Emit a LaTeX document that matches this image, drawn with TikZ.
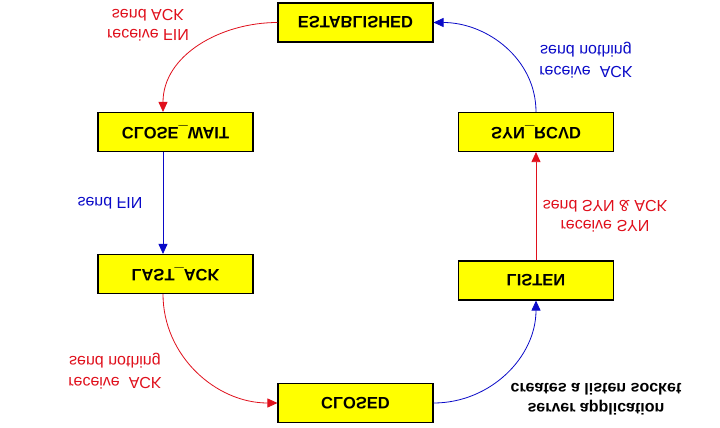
\documentclass[tikz,border=0pt]{standalone}
\usepackage{fontspec}
\setmainfont{Liberation Sans}
\usetikzlibrary{arrows.meta}
\definecolor{cState}{HTML}{FFFF00}
\definecolor{cSend}{HTML}{E0101C}
\definecolor{cRecv}{HTML}{0A0AC8}
\newcommand{\flipv}[1]{\scalebox{1}[-1]{#1}}

\begin{document}
\begin{tikzpicture}[x=1pt, y=1pt,
    state/.style={draw=black, line width=1.1pt, fill=cState, minimum width=155pt, minimum height=39pt, inner sep=0pt, font=\fontsize{16.5}{19}\selectfont\bfseries},
    edge/.style={-{Triangle[length=10pt,width=9pt]}, line width=0.8pt},
    lbl/.style={yscale=-1, align=center, font=\fontsize{16}{20.5}\selectfont}]
\useasboundingbox[fill=white] (0,0) rectangle (720,-428);

% States
\foreach \n/\x/\y/\t in {est/355.5/-22.5/ESTABLISHED, cw/175.5/-132/CLOSE\_WAIT, sr/536/-132/SYN\_RCVD,
    la/175.5/-274/LAST\_ACK, li/536/-280.5/LISTEN, cl/355.5/-403/CLOSED} {
    \node[state] (\n) at (\x,\y) {\flipv{\t}};
}

% Transitions
\draw[edge, cSend] (est.west) to[out=180, in=90] ([xshift=-12.5pt]cw.north);
\draw[edge, cRecv] ([xshift=-12.5pt]cw.south) -- ([xshift=-12.5pt]la.north);
\draw[edge, cSend] ([xshift=-12.5pt]la.south) to[out=-90, in=180] (cl.west);
\draw[edge, cRecv] (cl.east) to[out=0, in=-90] (li.south);
\draw[edge, cSend] (li.north) -- (sr.south);
\draw[edge, cRecv] (sr.north) to[out=90, in=0] (est.east);

% Labels
\node[lbl, text=cSend] (l1) at (148,-25) {receive FIN\\send ACK};
\node[lbl, text=cRecv] (l2) at (110,-203) {send FIN};
\node[lbl, text=cSend] (l3) at (115,-371) {receive~~ACK\\send nothing};
\node[lbl, text=cRecv] (l4) at (586,-60) {receive~~ACK\\send nothing};
\node[lbl, text=cSend] (l5) at (605,-216) {receive SYN\\send SYN \& ACK};
\node[lbl, font=\fontsize{16}{20.5}\selectfont\bfseries] (l6) at (596,-399) {server application\\creates a listen socket};

\end{tikzpicture}
\end{document}
